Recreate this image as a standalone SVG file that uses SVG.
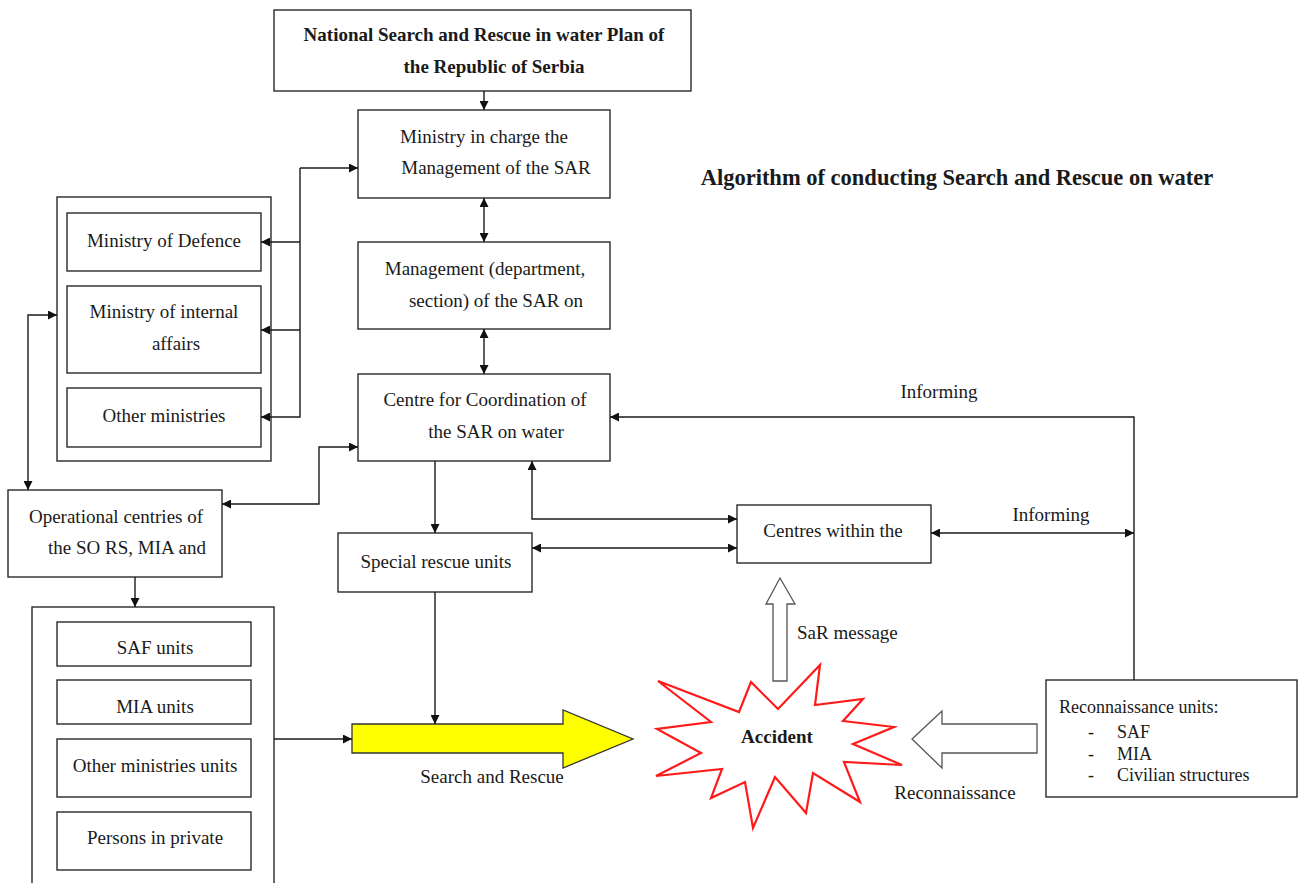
<svg xmlns="http://www.w3.org/2000/svg" width="1298" height="883" viewBox="0 0 1298 883">
<defs>
<style>
.box{fill:#fff;stroke:#2a2a2a;stroke-width:1.4}
.t{font-family:"Liberation Serif","Times New Roman",serif;font-size:19px;fill:#1a1a1a;text-anchor:middle}
.b{font-weight:bold}
.s{font-size:18px;text-anchor:start}
.ln{fill:none;stroke:#1a1a1a;stroke-width:1.4}
</style>
<marker id="ah" viewBox="0 0 10 10" refX="10" refY="5" markerWidth="9" markerHeight="9" markerUnits="userSpaceOnUse" orient="auto-start-reverse">
<path d="M0,0 L10,5 L0,10 z" fill="#111"/>
</marker>
</defs>
<rect width="1298" height="883" fill="#fff"/>

<text class="t b" x="957" y="185" style="font-size:22.5px">Algorithm of conducting Search and Rescue on water</text>

<g id="plan"><rect class="box" x="274" y="10" width="417" height="81"/>
<text class="t b" x="484" y="41">National Search and Rescue in water Plan of</text>
<text class="t b" x="494" y="73">the Republic of Serbia</text></g>

<g id="ministry"><rect class="box" x="358" y="110" width="252" height="88"/>
<text class="t" x="484" y="143">Ministry in charge the</text>
<text class="t" x="496" y="174">Management of the SAR</text></g>

<g id="management"><rect class="box" x="358" y="242" width="252" height="87"/>
<text class="t" x="485" y="275">Management (department,</text>
<text class="t" x="496" y="307">section) of the SAR on</text></g>

<g id="centre"><rect class="box" x="358" y="374" width="252" height="87"/>
<text class="t" x="485" y="406">Centre for Coordination of</text>
<text class="t" x="496" y="438">the SAR on water</text></g>

<g id="ministries"><rect class="box" x="57" y="197" width="214" height="264"/>
<rect class="box" x="67" y="213" width="194" height="58"/>
<text class="t" x="164" y="247">Ministry of Defence</text>
<rect class="box" x="67" y="286" width="194" height="87"/>
<text class="t" x="164" y="318">Ministry of internal</text>
<text class="t" x="176" y="350">affairs</text>
<rect class="box" x="67" y="388" width="194" height="59"/>
<text class="t" x="164" y="422">Other ministries</text></g>

<g id="operational"><rect class="box" x="8" y="490" width="214" height="87"/>
<text class="t" x="116" y="523">Operational centries of</text>
<text class="t" x="127" y="554">the SO RS, MIA and</text></g>

<g id="special"><rect class="box" x="338" y="533" width="194" height="59"/>
<text class="t" x="436" y="568">Special rescue units</text></g>

<g id="centres-within"><rect class="box" x="737" y="505" width="194" height="58"/>
<text class="t" x="833" y="537">Centres within the</text></g>

<g id="units"><rect class="box" x="32" y="607" width="242" height="290"/>
<rect class="box" x="57" y="622" width="194" height="44"/>
<text class="t" x="155" y="654">SAF units</text>
<rect class="box" x="57" y="680" width="194" height="44"/>
<text class="t" x="155" y="713">MIA units</text>
<rect class="box" x="57" y="739" width="194" height="58"/>
<text class="t" x="155" y="772">Other ministries units</text>
<rect class="box" x="57" y="812" width="194" height="58"/>
<text class="t" x="155" y="844">Persons in private</text></g>

<g id="search-rescue-arrow">
<path d="M352,724 H563 V710 L633,739 L563,768 V753 H352 Z" fill="#ffff00" stroke="#333" stroke-width="1.3"/>
<text class="t" x="492" y="783">Search and Rescue</text></g>

<g id="accident">
<path d="M658,681 L739,712 L751,682 L778,709 L820,665 L815,705 L863,699 L843,721 L894,727 L853,744 L902,765 L844,762 L860,802 L813,773 L806,813 L775,777 L753,828 L745,782 L711,798 L722,769 L656,776 L701,753 L657,729 L711,722 Z" fill="#fff" stroke="#ff1a1a" stroke-width="2.2" stroke-linejoin="miter"/>
<text class="t b" x="777" y="743">Accident</text></g>

<g id="sar-message-arrow">
<path d="M773,681 V604 H766 L780,578 L795,604 H787 V681 Z" fill="#fff" stroke="#555" stroke-width="1.3"/>
<text class="t" x="797" y="639" style="text-anchor:start">SaR message</text></g>

<g id="reconnaissance-arrow">
<path d="M1037,724 H942 V711 L912,739 L942,768 V753 H1037 Z" fill="#fff" stroke="#555" stroke-width="1.3"/>
<text class="t" x="955" y="799">Reconnaissance</text></g>

<g id="recon-units"><rect class="box" x="1046" y="680" width="251" height="117"/>
<text class="t s" x="1059" y="713">Reconnaissance units:</text>
<text class="t s" x="1088" y="738">-</text><text class="t s" x="1117" y="738">SAF</text>
<text class="t s" x="1088" y="760">-</text><text class="t s" x="1117" y="760">MIA</text>
<text class="t s" x="1088" y="781">-</text><text class="t s" x="1117" y="781">Civilian structures</text></g>

<g id="labels">
<text class="t" x="939" y="398">Informing</text>
<text class="t" x="1051" y="521">Informing</text></g>

<g id="connectors">
<path class="ln" d="M484,91 V110" marker-end="url(#ah)"/>
<path class="ln" d="M484,198 V242" marker-start="url(#ah)" marker-end="url(#ah)"/>
<path class="ln" d="M484,329 V374" marker-start="url(#ah)" marker-end="url(#ah)"/>
<path class="ln" d="M300,168 H358" marker-end="url(#ah)"/>
<path class="ln" d="M300,168 V417 H261" marker-end="url(#ah)"/>
<path class="ln" d="M300,242 H261" marker-end="url(#ah)"/>
<path class="ln" d="M300,330 H261" marker-end="url(#ah)"/>
<path class="ln" d="M57,315 H28 V490" marker-start="url(#ah)" marker-end="url(#ah)"/>
<path class="ln" d="M358,447 H319 V504 H222" marker-start="url(#ah)" marker-end="url(#ah)"/>
<path class="ln" d="M135,577 V607" marker-end="url(#ah)"/>
<path class="ln" d="M435,461 V533" marker-end="url(#ah)"/>
<path class="ln" d="M532,461 V519 H737" marker-start="url(#ah)" marker-end="url(#ah)"/>
<path class="ln" d="M532,548 H737" marker-start="url(#ah)" marker-end="url(#ah)"/>
<path class="ln" d="M931,533 H1134" marker-start="url(#ah)" marker-end="url(#ah)"/>
<path class="ln" d="M1134,680 V417 H610" marker-end="url(#ah)"/>
<path class="ln" d="M435,592 V724" marker-end="url(#ah)"/>
<path class="ln" d="M274,739 H352" marker-end="url(#ah)"/>
</g>
</svg>
